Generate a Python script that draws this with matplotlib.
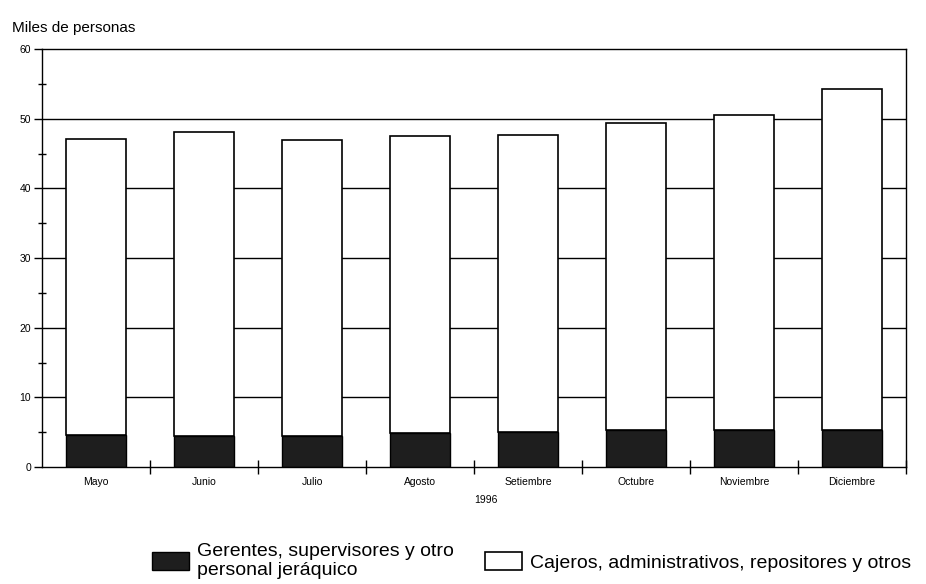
import numpy as np
import matplotlib
matplotlib.use("Agg")
import matplotlib.pyplot as plt
from matplotlib.ticker import MultipleLocator

# datos (miles de personas)
meses = ["Mayo", "Junio", "Julio", "Agosto", "Setiembre", "Octubre", "Noviembre", "Diciembre"]
total = [47.1, 48.1, 46.9, 47.5, 47.6, 49.4, 50.6, 54.2]
gerentes = [4.6, 4.4, 4.4, 4.9, 5.0, 5.3, 5.3, 5.3]
cajeros = [t - g for t, g in zip(total, gerentes)]

plt.rcParams['font.family'] = ['Liberation Sans', 'DejaVu Sans']

fig = plt.figure(figsize=(9.26, 5.84), dpi=100)
ax = fig.add_axes([0.0454, 0.2003, 0.9330, 0.7157])

x = np.arange(len(meses))
ancho = 0.56

# lineas de grilla detras de las barras
for v in range(10, 60, 10):
    ax.axhline(v, color='black', lw=1.0, zorder=1)

b1 = ax.bar(x, gerentes, ancho, color='#1e1e1e', edgecolor='black', lw=1.0, zorder=2,
            label='Gerentes, supervisores y otro\npersonal jeráquico')
b2 = ax.bar(x, cajeros, ancho, bottom=gerentes, color='white', edgecolor='black', lw=1.2,
            zorder=2, label='Cajeros, administrativos, repositores y otros')

ax.set_xlim(-0.5, len(meses) - 0.5)
ax.set_ylim(0, 60)

ax.yaxis.set_major_locator(MultipleLocator(10))
ax.yaxis.set_minor_locator(MultipleLocator(5))
ax.tick_params(axis='y', which='major', direction='out', length=6, width=1, labelsize=7.5, pad=2)
ax.tick_params(axis='y', which='minor', direction='inout', length=6, width=1)

ax.set_xticks(x)
ax.set_xticklabels(meses)
ax.set_xticks(x + 0.5, minor=True)
ax.tick_params(axis='x', which='major', length=0, labelsize=7.5, pad=7)
ax.tick_params(axis='x', which='minor', direction='inout', length=10, width=1)

for s in ax.spines.values():
    s.set_linewidth(1.0)

fig.text(486 / 926, 1 - 500 / 584, '1996', fontsize=7.5, ha='center', va='center')
fig.text(0.013, 0.952, 'Miles de personas', fontsize=11, ha='left', va='center')

fig.legend(handles=[b1, b2], loc='lower left', bbox_to_anchor=(0.152, -0.012), ncol=2,
           frameon=False, fontsize=14, handlelength=1.9, handleheight=1.1,
           handletextpad=0.4, columnspacing=1.6, borderaxespad=0.2, labelspacing=0.2)

fig.savefig('out.png', dpi=100)
